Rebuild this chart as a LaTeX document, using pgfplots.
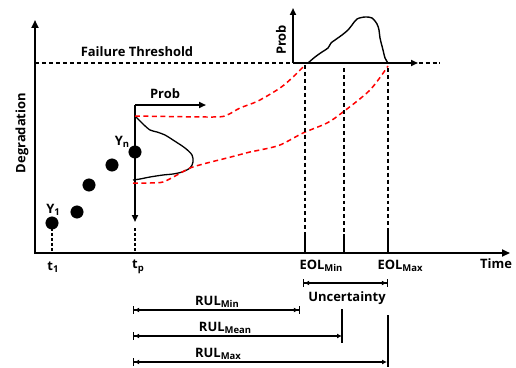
\documentclass[border=0pt]{standalone}
\usepackage{pgfplots}
\pgfplotsset{compat=1.18}
\usepackage{fontspec}
\setmainfont{Open Sans}
\usetikzlibrary{arrows.meta}
\newcommand{\sub}[1]{\raisebox{-0.35ex}{\fontsize{9.5}{10}\selectfont\bfseries #1}}
\tikzset{lbl/.style={font=\fontsize{13}{15}\selectfont\bfseries,inner sep=1pt}}
\begin{document}
\begin{tikzpicture}[x=1bp,y=1bp]
\useasboundingbox (0,0) rectangle (516,367);
\begin{axis}[at={(0,0)},anchor=south west,width=516bp,height=367bp,scale only axis,
  xmin=0,xmax=516,ymin=0,ymax=367,y dir=reverse,hide axis,clip=false]
% main axes
\addplot[black,line width=2pt,{Triangle[length=8pt,width=7pt]}-{Triangle[length=8pt,width=7pt]}] coordinates {(35,20) (35,253) (510,253)};
% failure threshold
\addplot[black,line width=1.2pt,dash pattern=on 4pt off 3pt] coordinates {(35,63) (440,63)};
% EOL prob axes
\addplot[black,line width=1.7pt,-{Triangle[length=7pt,width=6pt]}] coordinates {(293,63) (293,8)};
\addplot[black,line width=1.7pt,-{Triangle[length=7pt,width=6pt]}] coordinates {(293,63) (418,63)};
% tp prob axes
\addplot[black,line width=1.7pt,-{Triangle[length=7pt,width=6pt]}] coordinates {(135,105) (135,222)};
\addplot[black,line width=1.7pt,-{Triangle[length=7pt,width=6pt]}] coordinates {(135,105) (206,105)};
% dashed ticks at t1, tp
\addplot[black,line width=1.2pt,dash pattern=on 3pt off 2pt] coordinates {(52,228) (52,253)};
\addplot[black,line width=1.2pt,dash pattern=on 3pt off 2pt] coordinates {(135,228) (135,253)};
% data points
\addplot[only marks,mark=*,mark size=6.3pt,black] coordinates {(52,223) (77,212) (89,185) (112,165) (135,152)};
% distribution at tp
\addplot[black,line width=1.3pt,smooth,tension=0.5] coordinates {(136,117) (143,124) (150,130) (157,132) (165,135) (173,140) (185,148) (192,155) (193,162) (190,168) (182,172) (173,174) (163,175) (150,177) (140,179) (133,180)};
% red bounds
\addplot[red,line width=1.5pt,dash pattern=on 5pt off 3.5pt,smooth,tension=0.5] coordinates {(135,116) (213,117) (227,115) (240,108) (258,101) (280,88) (293,77) (305,65)};
\addplot[red,line width=1.5pt,dash pattern=on 5pt off 3.5pt,smooth,tension=0.5] coordinates {(133,183) (150,183) (163,182) (177,175) (190,168) (207,163) (227,158) (250,152) (260,150) (280,145) (303,133) (327,123) (343,112) (370,90) (388,66)};
% EOL distribution
\addplot[black,line width=1.4pt,smooth,tension=0.5] coordinates {(308,63) (315,57) (322,52) (328,48) (331,43) (335,40) (342,35) (348,30) (352,25) (357,19) (365,17) (372,18) (377,24) (379,30) (380,38) (383,50) (385,58) (388,63)};
% EOL verticals
\addplot[black,line width=1.3pt,dash pattern=on 4pt off 3pt] coordinates {(305,65) (305,232)};
\addplot[black,line width=1.3pt,dash pattern=on 4pt off 3pt] coordinates {(344,68) (344,232)};
\addplot[black,line width=1.3pt,dash pattern=on 4pt off 3pt] coordinates {(388,68) (388,232)};
\addplot[black,line width=1.4pt] coordinates {(305,232) (305,253)};
\addplot[black,line width=1.4pt] coordinates {(344,234) (344,253)};
\addplot[black,line width=1.4pt] coordinates {(388,232) (388,253)};
% bottom arrows
\addplot[black,line width=1.2pt,{Bar[width=8pt]Latex[length=5pt,width=5pt]}-{Latex[length=5pt,width=5pt]Bar[width=8pt]}] coordinates {(303,283) (388,283)};
\addplot[black,line width=1.2pt,{Bar[width=8pt]Latex[length=5pt,width=5pt]}-{Latex[length=5pt,width=5pt]Bar[width=8pt]}] coordinates {(133,310) (300,310)};
\addplot[black,line width=1.2pt,{Bar[width=8pt]Latex[length=5pt,width=5pt]}-{Latex[length=5pt,width=5pt]}] coordinates {(133,336) (342,336)};
\addplot[black,line width=1.2pt,{Bar[width=8pt]Latex[length=5pt,width=5pt]}-{Latex[length=5pt,width=5pt]}] coordinates {(133,362) (387,362)};
\addplot[black,line width=1.4pt] coordinates {(342,309) (342,343)};
\addplot[black,line width=1.4pt] coordinates {(388,315) (388,367)};
% labels
\node[lbl] at (axis cs:137,52) {Failure Threshold};
\node[lbl] at (axis cs:165,94) {Prob};
\node[lbl,rotate=90] at (axis cs:281,40) {Prob};
\node[lbl,rotate=90] at (axis cs:22,133) {Degradation};
\node[lbl] at (axis cs:53,210) {Y\sub{1}};
\node[lbl] at (axis cs:122,142) {Y\sub{n}};
\node[lbl] at (axis cs:53,267) {t\sub{1}};
\node[lbl] at (axis cs:138,267) {t\sub{p}};
\node[lbl] at (axis cs:321,266) {EOL\sub{Min}};
\node[lbl] at (axis cs:400,266) {EOL\sub{Max}};
\node[lbl,anchor=west] at (axis cs:479,264) {Time};
\node[lbl] at (axis cs:347,298) {Uncertainty};
\node[lbl] at (axis cs:217,302) {RUL\sub{Min}};
\node[lbl] at (axis cs:225,328) {RUL\sub{Mean}};
\node[lbl] at (axis cs:218,354) {RUL\sub{Max}};
\end{axis}
\end{tikzpicture}
\end{document}
